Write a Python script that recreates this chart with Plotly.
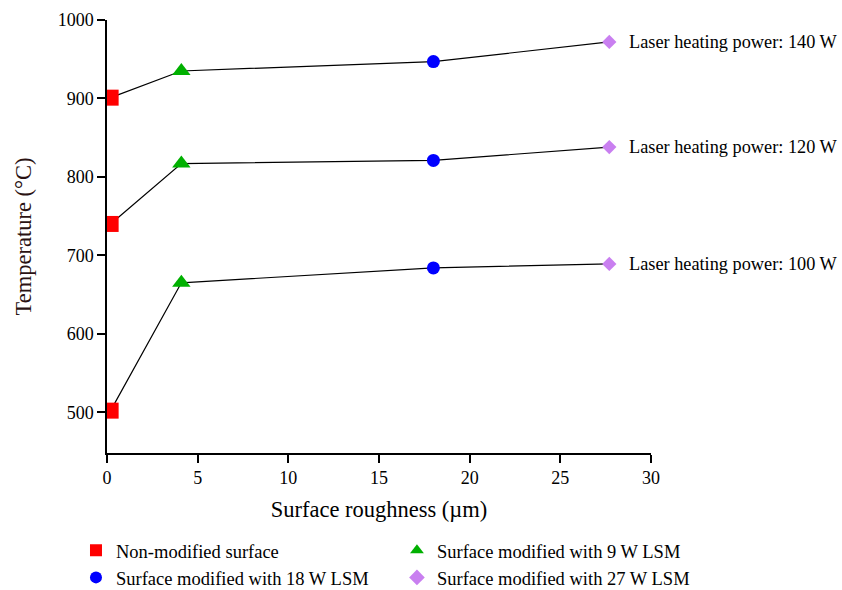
import plotly.graph_objects as go

roughness = [0.2, 4.1, 18.0, 27.7]
powers = ["140 W", "120 W", "100 W"]
temp_140 = [901, 935, 947, 972]
temp_120 = [740, 817, 821, 838]
temp_100 = [502, 665, 684, 689]
temps = [temp_140, temp_120, temp_100]

surfaces = ["Non-modified surface", "Surface modified with 9 W LSM",
            "Surface modified with 18 W LSM", "Surface modified with 27 W LSM"]
symbols = ["square", "triangle-up", "circle", "diamond"]
colors = ["#ff0000", "#00b000", "#0000ff", "#c97ff0"]
sizes = [16, 16, 13, 11]
legend_ids = ["legend", "legend2", "legend", "legend2"]

FONT = "Liberation Serif, Times New Roman, serif"

fig = go.Figure()
for t in temps:
    fig.add_trace(go.Scatter(x=roughness, y=t, mode="lines",
                             line=dict(color="black", width=1.2),
                             showlegend=False, hoverinfo="skip"))

for i, name in enumerate(surfaces):
    fig.add_trace(go.Scatter(
        x=[roughness[i]] * len(temps), y=[t[i] for t in temps], mode="markers",
        name=name, legend=legend_ids[i],
        marker=dict(symbol=symbols[i], color=colors[i], size=sizes[i], line=dict(width=0)),
    ))

for p, t in zip(powers, temps):
    fig.add_annotation(x=roughness[-1], y=t[-1], xref="x", yref="y",
                       text=f"Laser heating power: {p}", showarrow=False,
                       xanchor="left", yanchor="middle", xshift=18,
                       font=dict(family=FONT, size=18.3, color="black"))

axis_common = dict(showline=True, linecolor="black", linewidth=1.5, ticks="outside",
                   ticklen=8, tickwidth=1.5, tickcolor="black", showgrid=False,
                   zeroline=False, mirror=False,
                   tickfont=dict(family=FONT, size=18, color="black"))

fig.update_layout(
    width=842, height=590,
    margin=dict(l=107, r=191, t=20, b=137, autoexpand=False),
    paper_bgcolor="white", plot_bgcolor="white",
    xaxis=dict(range=[0, 30], dtick=5, title=dict(text="Surface roughness (µm)",
               font=dict(family=FONT, size=22.5, color="black"), standoff=14), **axis_common),
    yaxis=dict(range=[448, 1000], tickvals=[500, 600, 700, 800, 900, 1000],
               title=dict(text="Temperature (°C)", font=dict(family=FONT, size=22.5, color="#2a1212"),
                          standoff=20), **axis_common),
    legend=dict(x=-0.057, y=-0.182, xanchor="left", yanchor="top", orientation="v",
                font=dict(family=FONT, size=18.5, color="black"), bgcolor="rgba(0,0,0,0)",
                itemsizing="constant", tracegroupgap=0),
    legend2=dict(x=0.533, y=-0.182, xanchor="left", yanchor="top", orientation="v",
                 font=dict(family=FONT, size=18.5, color="black"), bgcolor="rgba(0,0,0,0)",
                 itemsizing="constant", tracegroupgap=0),
)

fig.write_html("out.html")
